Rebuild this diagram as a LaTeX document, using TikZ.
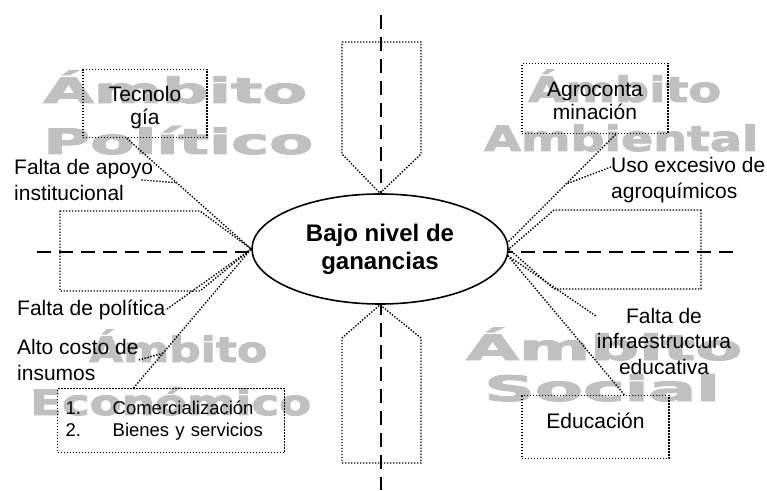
\documentclass[tikz,border=0pt]{standalone}
\usepackage{fontspec}
\setmainfont{Liberation Sans}
\newfontfamily\wmfont[FakeBold=2.5]{DejaVu Sans}
\usetikzlibrary{shapes.geometric,calc}
\definecolor{wmc}{RGB}{192,192,192}
\newcommand\wmk[2]{\resizebox{#1bp}{\height}{\fontsize{35bp}{35bp}\wmfont\bfseries #2}}
\begin{document}
\begin{tikzpicture}[x=1bp,y=-1bp,
  every node/.style={inner sep=0pt},
  dots/.style={line width=1.4bp, dash pattern=on 1.4bp off 1.6bp},
  dline/.style={line width=1.8bp, dash pattern=on 14bp off 8bp},
  txt/.style={font=\fontsize{21bp}{25.5bp}\selectfont, align=left},
  boxn/.style={draw, dots, font=\fontsize{21bp}{23.5bp}\selectfont},
  wm/.style={text=wmc, anchor=base west}]
\useasboundingbox (0,0) rectangle (767,491);
% watermarks
\node[wm] (w1) at (43,103) {\wmk{264}{Ámbito}};
\node[wm] (w2) at (43,154) {\wmk{270}{Político}};
\node[wm] (w3) at (528,102) {\wmk{193}{Ámbito}};
\node[wm] (w4) at (484,151) {\wmk{274}{Ambiental}};
\node[wm] (w5) at (89,362) {\wmk{178}{Ámbito}};
\node[wm] (w6) at (30,415) {\wmk{281}{Económico}};
\node[wm] (w7) at (466,360) {\wmk{276}{Ámbito}};
\node[wm] (w8) at (484,401) {\wmk{236}{Social}};
% dashed axes
\coordinate (vt) at (381,15);
\coordinate (vb) at (381,490);
\coordinate (hl) at (37,252);
\coordinate (hr) at (735,252);
\draw[dline] (vt) -- (vb);
\draw[dline] (hl) -- (hr);
% central ellipse
\node[ellipse, draw, line width=1.6bp, fill=white, minimum width=256bp, minimum height=110bp,
  align=center, font=\fontsize{24bp}{28bp}\selectfont\bfseries] (el) at (380,249) {Bajo nivel de\\ganancias};
% arrow shapes
\draw[dots] (342,42) -- (421,42) -- (421,154) -- (el.north) -- (342,154) -- cycle;
\draw[dots] (342,463) -- (421,463) -- (421,338) -- (el.south) -- (342,338) -- cycle;
\draw[dots] (60,211) -- (200,211) -- (el.west) -- (200,291) -- (60,291) -- cycle;
\draw[dots] (701,210) -- (554,210) -- (el.east) -- (554,289) -- (701,289) -- cycle;
% boxes
\node[boxn, align=center, minimum width=124bp, text height=55bp, text depth=13bp, anchor=north] (tec) at (145,69) {Tecnolo\\gía};
\node[boxn, align=center, minimum width=146bp, text height=56bp, text depth=14bp, anchor=north] (agro) at (595,63) {Agroconta\\minación};
\node[boxn, minimum width=147bp, text height=33bp, text depth=30bp, anchor=north] (edu) at (595.5,395) {Educación};
\node[draw, dots, anchor=north west, minimum height=64bp, text width=211bp, inner xsep=8bp, align=left,
  font=\fontsize{18.5bp}{22bp}\selectfont] (com) at (57,388)
  {\makebox[47bp][l]{1.}Comercialización\\\makebox[47bp][l]{2.}Bienes y servicios};
% texts
\node[txt, anchor=west] (apoyo) at (14,180) {Falta de apoyo\\institucional};
\node[txt, anchor=west] (uso) at (611,180) {Uso excesivo de\\agroquímicos};
\node[txt, anchor=west] (pol) at (17,310) {Falta de política};
\node[txt, anchor=west] (alto) at (17,360) {Alto costo de\\insumos};
\node[txt, align=center] (infra) at (664,341) {Falta de\\infraestructura\\educativa};
% connectors
\coordinate (tecp) at ($(tec.south west)!0.355!(tec.south east)$);
\draw[dots] (tecp) -- (el.west) coordinate[pos=0.4] (tecj);
\draw[dots] ([xshift=-12bp]apoyo.east) -- (tecj);
\coordinate (agrop) at ($(agro.south west)!0.64!(agro.south east)$);
\draw[dots] (agrop) -- (el.3) coordinate[pos=0.46] (agroj);
\draw[dots] ([yshift=13bp]uso.west) -- (agroj);
\coordinate (comp) at ($(com.north west)!0.335!(com.north east)$);
\draw[dots] (comp) -- (el.west) coordinate[pos=0.25] (comj);
\draw[dots] (alto.east) -- (comj);
\draw[dots] (el.west) -- (pol.east);
\draw[dots] (el.-3) -- (edu.48);
\draw[dots] (el.-3) -- (infra.160);
\end{tikzpicture}
\end{document}
